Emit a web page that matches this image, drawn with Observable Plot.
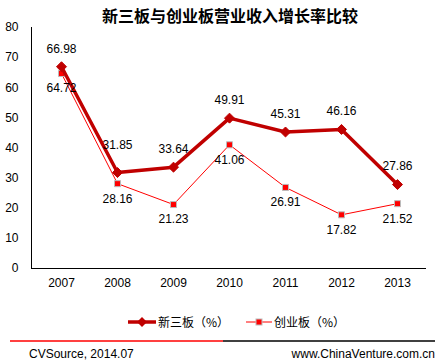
<!DOCTYPE html>
<html><head><meta charset="utf-8">
<script src="https://cdn.jsdelivr.net/npm/d3@7"></script>
<script src="https://cdn.jsdelivr.net/npm/@observablehq/plot@0.6"></script>
<style>
body{margin:0;background:#fff;font-family:Arial,"Liberation Sans","Noto Sans CJK SC",sans-serif;}
#wrap{position:relative;width:439px;height:362px;overflow:hidden;}
#chart{position:absolute;left:0;top:0;}
.abs{position:absolute;white-space:nowrap;}
#title{left:0;width:460px;top:3px;text-align:center;font-size:16px;font-weight:bold;font-family:"Noto Sans CJK SC",sans-serif;color:#000;}
.leg{font-size:12px;font-family:"Noto Sans CJK SC",sans-serif;color:#000;line-height:14px;}
.foot{font-size:12px;font-family:Arial,"Liberation Sans",sans-serif;color:#000;line-height:14px;}
</style></head>
<body><div id="wrap"><div id="chart"></div>
<div id="title" class="abs">新三板与创业板营业收入增长率比较</div>
<svg class="abs" style="left:126px;top:315px" width="32" height="14"><line x1="2" y1="7" x2="30" y2="7" stroke="#C00000" stroke-width="3.5"/><path d="M16,2L21,7L16,12L11,7Z" fill="#C00000"/></svg>
<div class="abs leg" style="left:158px;top:315px">新三板（%）</div>
<svg class="abs" style="left:244px;top:315px" width="30" height="14"><line x1="2" y1="7" x2="28" y2="7" stroke="#FF0000" stroke-width="1"/><rect x="12" y="4" width="6" height="6" fill="#FF0000" stroke="#bbb" stroke-width="1"/></svg>
<div class="abs leg" style="left:274px;top:315px">创业板（%）</div>
<svg class="abs" style="left:0;top:339px" width="439" height="4"><line x1="10" y1="2" x2="223" y2="2" stroke="#FF0000" stroke-width="1.5"/><line x1="223" y1="2" x2="435" y2="2" stroke="#000" stroke-width="1.5"/></svg>
<div class="abs foot" style="left:29px;top:347px">CVSource, 2014.07</div>
<div class="abs foot" style="right:4px;top:347px">www.ChinaVenture.com.cn</div>
</div>
<script>
const years = ["2007","2008","2009","2010","2011","2012","2013"];
const xinsanban = [66.98, 31.85, 33.64, 49.91, 45.31, 46.16, 27.86];
const chuangyeban = [64.72, 28.16, 21.23, 41.06, 26.91, 17.82, 21.52];
const yTicks = [0,10,20,30,40,50,60,70,80];

const A = years.map((y,i)=>({year:y, v:xinsanban[i]}));
const B = years.map((y,i)=>({year:y, v:chuangyeban[i]}));

const plot = Plot.plot({
  width: 439, height: 362,
  marginLeft: 31, marginRight: 13, marginTop: 27, marginBottom: 94,
  style: {fontFamily: "Arial, 'Liberation Sans', sans-serif", fontSize: "12px", color: "#000", background: "#fff"},
  x: {type: "band", domain: years, padding: 0, label: null},
  y: {domain: [0, 80], label: null},
  marks: [
    Plot.axisY({ticks: yTicks, tickSize: 0, tickPadding: 13, fontSize: 12, label: null}),
    Plot.axisX({tickSize: 0, tickPadding: 10, fontSize: 12, label: null}),
    Plot.frame({anchor: "left", stroke: "#000"}),
    Plot.ruleY([0], {stroke: "#000"}),
    Plot.line(B, {x: "year", y: "v", stroke: "#FF0000", strokeWidth: 1}),
    Plot.dot(B, {x: "year", y: "v", symbol: "square", r: 3.4, fill: "#FF0000", stroke: "#bbb", strokeWidth: 1}),
    Plot.line(A, {x: "year", y: "v", stroke: "#C00000", strokeWidth: 3.5}),
    Plot.dot(A, {x: "year", y: "v", symbol: "diamond2", r: 4.5, fill: "#C00000", stroke: "#C00000", strokeWidth: 1}),
    Plot.text(A.filter(d=>d.year!=="2008"), {x: "year", y: "v", text: d=>d.v.toFixed(2), dy: -18, fontSize: 12, fill: "#000"}),
    Plot.text(A.filter(d=>d.year==="2008"), {x: "year", y: "v", text: d=>d.v.toFixed(2), dy: -27, fontSize: 12, fill: "#000"}),
    Plot.text(B, {x: "year", y: "v", text: d=>d.v.toFixed(2), dy: 15, fontSize: 12, fill: "#000"})
  ]
});
document.getElementById("chart").appendChild(plot);
</script>
</body></html>
